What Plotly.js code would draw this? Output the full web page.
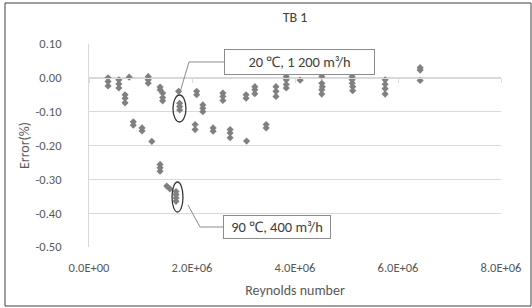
<!DOCTYPE html>
<html>
<head>
<meta charset="utf-8">
<script src="https://cdn.plot.ly/plotly-3.0.1.min.js"></script>
<style>
  html, body { margin: 0; padding: 0; background: #fff; }
  #chart { width: 532px; height: 308px; }
</style>
</head>
<body>
<div id="chart"></div>
<script>
// Reynolds number of each measurement
const reynolds = [
  0.37e6, 0.37e6, 0.37e6,
  0.58e6, 0.58e6, 0.58e6,
  0.70e6, 0.70e6, 0.70e6,
  0.78e6,
  0.86e6, 0.86e6,
  1.03e6, 1.03e6,
  1.15e6, 1.15e6, 1.15e6,
  1.22e6,
  1.38e6, 1.38e6,
  1.43e6, 1.43e6, 1.43e6,
  1.38e6, 1.38e6, 1.38e6,
  1.51e6,
  1.57e6,
  1.69e6, 1.69e6, 1.69e6, 1.69e6,
  1.74e6,
  1.76e6, 1.76e6, 1.76e6,
  2.06e6, 2.06e6,
  2.09e6, 2.09e6,
  2.21e6, 2.21e6, 2.21e6,
  2.41e6, 2.41e6,
  2.60e6, 2.60e6, 2.60e6,
  2.74e6, 2.74e6, 2.74e6,
  3.05e6, 3.05e6,
  3.06e6,
  3.22e6, 3.22e6, 3.22e6,
  3.44e6, 3.44e6,
  3.63e6, 3.63e6, 3.63e6,
  3.83e6, 3.83e6, 3.83e6, 3.83e6,
  4.10e6,
  4.52e6, 4.52e6, 4.53e6, 4.52e6, 4.52e6,
  5.11e6, 5.11e6, 5.11e6, 5.12e6, 5.12e6,
  5.75e6, 5.75e6, 5.75e6, 5.75e6,
  6.43e6, 6.43e6, 6.43e6
];
// Error (%) of each measurement
const errorPct = [
  0.000, -0.011, -0.024,
  -0.006, -0.018, -0.030,
  -0.050, -0.060, -0.074,
  0.002,
  -0.130, -0.140,
  -0.148, -0.157,
  0.004, -0.006, -0.016,
  -0.188,
  -0.027, -0.035,
  -0.045, -0.058, -0.068,
  -0.256, -0.266, -0.276,
  -0.320,
  -0.328,
  -0.336, -0.345, -0.355, -0.365,
  -0.040,
  -0.075, -0.085, -0.095,
  -0.138, -0.153,
  -0.040, -0.050,
  -0.080, -0.090, -0.100,
  -0.148, -0.158,
  -0.045, -0.055, -0.067,
  -0.153, -0.163, -0.177,
  -0.050, -0.060,
  -0.187,
  -0.026, -0.035, -0.047,
  -0.138, -0.148,
  -0.026, -0.040, -0.055,
  0.004, -0.006, -0.020, -0.030,
  -0.007,
  0.004, -0.016, -0.026, -0.035, -0.048,
  0.004, -0.006, -0.016, -0.026, -0.038,
  -0.006, -0.019, -0.032, -0.048,
  0.030, 0.023, -0.008
];
const xTickVals = [0, 2e6, 4e6, 6e6, 8e6];
const xTickText = ["0.0E+00", "2.0E+06", "4.0E+06", "6.0E+06", "8.0E+06"];
const yTickVals = [0.10, 0.00, -0.10, -0.20, -0.30, -0.40, -0.50];
const yTickText = ["0.10", "0.00", "-0.10", "-0.20", "-0.30", "-0.40", "-0.50"];
const chartTitle = "TB 1";
const xTitle = "Reynolds number";
const yTitle = "Error(%)";
const callout1 = "20 ℃, 1 200 m³/h";
const callout2 = "90 ℃, 400 m³/h";

const FONT = "Carlito, Lato, 'Open Sans', sans-serif";
const GRID = "#d9d9d9";
const TXT = "#595959";

// plot area geometry helpers (paper frame)
const L = 89, R = 31, T = 44, B = 61, W = 532, H = 308;
const pw = W - L - R, ph = H - T - B;
const px = v => (v - L) / pw;          // pixel -> paper x
const py = v => (H - B - v) / ph;      // pixel -> paper y

const traces = [
  {
    type: "scatter", mode: "markers",
    x: reynolds, y: errorPct,
    marker: { symbol: "diamond", size: 5.5, color: "#808080" },
    hoverinfo: "skip", showlegend: false
  },
  {
    type: "scatter", mode: "markers", x: [0], y: [0], xaxis: "x2", yaxis: "y",
    marker: { opacity: 0 }, hoverinfo: "skip", showlegend: false
  }
];

const ellipse = (x0, x1, y0, y1) => ({
  type: "circle", xref: "x", yref: "y", x0, x1, y0, y1,
  line: { color: "#3a3a3a", width: 1.3 }
});
function leader(pts) {
  // pts in pixel positions of the reference frame, converted to paper space
  return {
    type: "path", xref: "paper", yref: "paper",
    path: pts.map((p, i) => (i ? "L" : "M") + " " + px(p[0]) + " " + py(p[1])).join(" "),
    line: { color: "#8c8c8c", width: 1 }
  };
}

const layout = {
  width: W, height: H,
  margin: { l: L, r: R, t: T, b: B },
  paper_bgcolor: "#fff", plot_bgcolor: "#fff",
  font: { family: FONT, size: 12.5, color: TXT },
  title: { text: chartTitle, font: { family: FONT, size: 14, color: "#404040" },
           x: 0.5, xref: "paper", y: 1 - 17 / H, yanchor: "middle" },
  xaxis: {
    range: [0, 8e6], tickvals: xTickVals, ticktext: xTickText,
    showgrid: false, zeroline: false, showline: false, ticks: "",
    ticklabelstandoff: 11,
    tickfont: { family: FONT, size: 12.5, color: TXT },
    title: { text: xTitle, font: { family: FONT, size: 14, color: TXT }, standoff: 11 }
  },
  xaxis2: {
    range: [0, 8e6], overlaying: "x", anchor: "free", position: py(78),
    tickvals: xTickVals, showticklabels: false, showgrid: false, zeroline: false,
    showline: true, linecolor: GRID, linewidth: 1,
    ticks: "outside", ticklen: 4, tickcolor: GRID, tickwidth: 1
  },
  yaxis: {
    range: [-0.5, 0.1], tickvals: yTickVals, ticktext: yTickText,
    showgrid: true, gridcolor: GRID, gridwidth: 1, zeroline: false,
    showline: true, linecolor: GRID, linewidth: 1, ticks: "",
    ticklabelstandoff: 24,
    tickfont: { family: FONT, size: 12.5, color: TXT },
    title: { text: yTitle, font: { family: FONT, size: 14, color: TXT }, standoff: 2 }
  },
  shapes: [
    ellipse(1.631e6, 1.883e6, -0.0507, -0.1305),
    ellipse(1.612e6, 1.825e6, -0.3079, -0.3966),
    leader([[224, 62], [189, 62], [180, 92]]),
    leader([[188, 205], [200, 227], [223, 227]]),
    { type: "rect", xref: "paper", yref: "paper",
      x0: px(5), x1: px(531), y0: py(306), y1: py(3),
      line: { color: "#404040", width: 1 } }
  ],
  annotations: [
    { xref: "paper", yref: "paper", x: px(299.5), y: py(62), text: callout1,
      showarrow: false, font: { family: FONT, size: 14.5, color: "#404040" },
      bgcolor: "#fff", bordercolor: "#8c8c8c", borderwidth: 1, borderpad: 3,
      width: 143, height: 18, xanchor: "center", yanchor: "middle" },
    { xref: "paper", yref: "paper", x: px(277), y: py(226.5), text: callout2,
      showarrow: false, font: { family: FONT, size: 14.5, color: "#404040" },
      bgcolor: "#fff", bordercolor: "#8c8c8c", borderwidth: 1, borderpad: 3,
      width: 100, height: 16, xanchor: "center", yanchor: "middle" }
  ]
};

Plotly.newPlot("chart", traces, layout, { staticPlot: true, displayModeBar: false });
</script>
</body>
</html>
